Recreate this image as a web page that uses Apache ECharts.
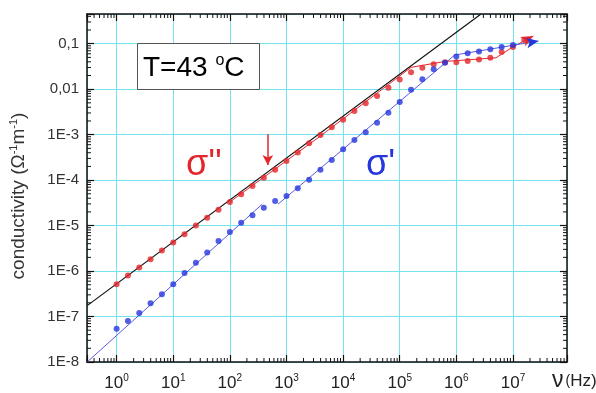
<!DOCTYPE html>
<html>
<head>
<meta charset="utf-8">
<script src="https://cdn.jsdelivr.net/npm/echarts@6/dist/echarts.min.js"></script>
<style>
  html, body { margin: 0; background: #fff; }
  #chart { width: 596px; height: 393px; }
</style>
</head>
<body>
<div id="chart"></div>
<script>
  // values, as log10 of frequency (Hz) and log10 of conductivity
  const logFreq = [0, 0.2, 0.4, 0.6, 0.8, 1.0, 1.2, 1.4, 1.6, 1.8, 2.0, 2.2, 2.4, 2.6, 2.8, 3.0, 3.2, 3.4,
    3.6, 3.8, 4.0, 4.2, 4.4, 4.6, 4.8, 5.0, 5.2, 5.4, 5.6, 5.8, 6.0, 6.2, 6.4, 6.6, 6.8, 7.0, 7.2];

  // sigma'' (red dots)
  const logSigmaImag = [-6.29, -6.10, -5.92, -5.74, -5.55, -5.37, -5.19, -5.00, -4.83, -4.65, -4.48, -4.31,
    -4.13, -3.95, -3.77, -3.58, -3.39, -3.19, -3.01, -2.84, -2.67, -2.48, -2.31, -2.15, -1.97, -1.79, -1.63,
    -1.53, -1.45, -1.41, -1.41, -1.38, -1.35, -1.31, -1.18, -1.07, -0.92];

  // sigma' (blue dots), last one at 10^7
  const logSigmaReal = [-7.27, -7.10, -6.92, -6.71, -6.51, -6.29, -6.04, -5.82, -5.59, -5.34, -5.14, -4.94,
    -4.77, -4.61, -4.46, -4.35, -4.18, -3.99, -3.77, -3.56, -3.32, -3.12, -2.95, -2.74, -2.52, -2.28, -2.01,
    -1.78, -1.56, -1.42, -1.28, -1.21, -1.17, -1.12, -1.07, -1.03];

  // fitted curves [log10 f, log10 sigma]
  const fitImag = [[2.0, -4.48], [3.6, -3.03], [5.2, -1.52], [5.8, -1.39], [6.7, -1.31], [7.0, -1.07], [7.36, -0.83]];
  const fitRealLow = [[-0.52, -8.0], [2.57, -4.53]];
  const fitRealHigh = [[2.85, -4.53], [5.97, -1.25], [7.45, -0.94]];
  const powerLaw = [[-0.52, -6.76], [6.43, -0.35]];
  const downArrow = [[2.67, -2.99], [2.67, -3.67]];

  const X_MIN = 0.3, X_MAX = 9e7, Y_MIN = 1e-8, Y_MAX = 0.45;
  const minorSteps = [2, 3, 4, 5, 6, 7, 8, 9];

  const p10 = v => Math.pow(10, v);
  const toXY = pts => pts.map(p => [p10(p[0]), p10(p[1])]);

  const FONT = 'Liberation Sans';
  const INK = '#111';
  const GRID_CYAN = '#74e4ec';
  const RED = '#e3262b';
  const BLUE = '#2536dc';

  function decadeOf(v) {
    const l = Math.log10(v);
    const e = Math.round(l);
    return Math.abs(l - e) < 1e-6 ? e : null;
  }

  function yLabel(v) {
    const e = decadeOf(v);
    if (e === null) return '';
    if (e === -1) return '0,1';
    if (e === -2) return '0,01';
    return '1E' + e;
  }

  function xLabel(v) {
    const e = decadeOf(v);
    if (e === null) return '';
    return '{b|10}{s|' + e + '}';
  }

  // minor log ticks (2..9 in every decade) for all four frame sides
  const minorTicks = [];
  for (let d = -9; d <= 8; d++) {
    minorSteps.forEach(m => {
      const v = m * p10(d);
      if (v > X_MIN && v < X_MAX) minorTicks.push([v, Y_MIN, 0]);
      if (v > Y_MIN && v < Y_MAX) minorTicks.push([X_MIN, v, 1]);
    });
  }

  function makeX(pos, main) {
    return {
      type: 'log', logBase: 10, min: X_MIN, max: X_MAX, position: pos,
      axisLine: { show: true, onZero: false, lineStyle: { color: INK, width: 1.5 } },
      axisTick: { show: true, inside: true, length: 7, lineStyle: { color: INK, width: 1.2 } },
      splitLine: { show: main, lineStyle: { color: GRID_CYAN, width: 1 } },
      axisLabel: {
        show: main, margin: 11, formatter: xLabel,
        rich: {
          b: { fontFamily: FONT, fontSize: 17, color: '#222', lineHeight: 20 },
          s: { fontFamily: FONT, fontSize: 10, color: '#222', verticalAlign: 'top', lineHeight: 12 }
        }
      },
      name: main ? '{n|\u03bd}{p|(}{h|Hz)}' : '',
      nameLocation: 'end', nameGap: -15,
      nameTextStyle: {
        verticalAlign: 'top', padding: [7, 0, 0, 0],
        rich: {
          n: { fontFamily: FONT, fontSize: 23, color: '#222', lineHeight: 24, padding: [0, 2, 0, 0] },
          p: { fontFamily: FONT, fontSize: 14, color: '#222', lineHeight: 24 },
          h: { fontFamily: FONT, fontSize: 17, color: '#222', lineHeight: 24 }
        }
      }
    };
  }

  function makeY(pos, main) {
    return {
      type: 'log', logBase: 10, min: Y_MIN, max: Y_MAX, position: pos,
      axisLine: { show: true, onZero: false, lineStyle: { color: INK, width: 1.5 } },
      axisTick: { show: true, inside: true, length: 7, lineStyle: { color: INK, width: 1.2 } },
      splitLine: { show: main, lineStyle: { color: GRID_CYAN, width: 1 } },
      axisLabel: { show: main, margin: 8, formatter: yLabel, fontFamily: FONT, fontSize: 15, color: '#333' },
      name: main ? '{t|conductivity (\u03a9}{s|-1}{t|m}{s|-1}{t|)}' : '',
      nameLocation: 'middle', nameGap: 57,
      nameTextStyle: {
        padding: [0, 16, 0, 0],
        rich: {
          t: { fontFamily: FONT, fontSize: 19, color: '#333', lineHeight: 22 },
          s: { fontFamily: FONT, fontSize: 11, color: '#333', verticalAlign: 'top', lineHeight: 12 }
        }
      }
    };
  }

  const chart = echarts.init(document.getElementById('chart'), null, { renderer: 'canvas' });

  chart.setOption({
    animation: false,
    backgroundColor: '#fff',
    grid: { left: 87, top: 14, right: 29, bottom: 31, outerBoundsMode: 'none', containLabel: false },
    xAxis: [makeX('bottom', true), makeX('top', false)],
    yAxis: [makeY('left', true), makeY('right', false)],
    graphic: [
      {
        type: 'rect', left: 137, top: 43, z: 10,
        shape: { width: 122, height: 46 },
        style: { fill: '#fff', stroke: '#555', lineWidth: 1 }
      },
      {
        type: 'text', x: 143, y: 68, z: 11,
        style: {
          text: '{m|T=43 }{s|o}{m|C}', verticalAlign: 'middle',
          rich: {
            m: { fontFamily: FONT, fontSize: 28, color: '#111', lineHeight: 30 },
            s: { fontFamily: FONT, fontSize: 16, color: '#111', verticalAlign: 'top', lineHeight: 14 }
          }
        }
      },
      {
        type: 'text', x: 186, y: 165, z: 11,
        style: { text: "\u03c3''", fontFamily: FONT, fontSize: 36, fill: RED, verticalAlign: 'middle' }
      },
      {
        type: 'text', x: 366, y: 165, z: 11,
        style: { text: "\u03c3'", fontFamily: FONT, fontSize: 36, fill: BLUE, verticalAlign: 'middle' }
      }
    ],
    series: [
      {
        name: 'power law', type: 'line', data: toXY(powerLaw),
        symbol: 'none', lineStyle: { color: INK, width: 1.2 }, z: 3
      },
      {
        name: "fit sigma'' ", type: 'line', showSymbol: true, symbol: 'none',
        data: toXY(fitImag).map((p, i, a) => i === a.length - 1
          ? { value: p, symbol: 'arrow', symbolSize: [8, 12], symbolRotate: -62 } : { value: p }),
        lineStyle: { color: RED, width: 1 }, itemStyle: { color: RED }, z: 3
      },
      {
        name: "fit sigma' low", type: 'line', data: toXY(fitRealLow),
        symbol: 'none', lineStyle: { color: '#5a5ae0', width: 1 }, z: 3
      },
      {
        name: "fit sigma' high", type: 'line', showSymbol: true, symbol: 'none',
        data: toXY(fitRealHigh).map((p, i, a) => i === a.length - 1
          ? { value: p, symbol: 'arrow', symbolSize: [8, 12], symbolRotate: -80 } : { value: p }),
        lineStyle: { color: '#5a5ae0', width: 1 }, itemStyle: { color: BLUE }, z: 3
      },
      {
        name: "sigma''", type: 'scatter', symbolSize: 6, itemStyle: { color: RED },
        data: logFreq.map((f, i) => [p10(f), p10(logSigmaImag[i])]), z: 4,
        markLine: {
          silent: true, symbol: ['none', 'arrow'], symbolSize: [8, 10],
          label: { show: false },
          lineStyle: { color: RED, width: 1.5, type: 'solid' },
          data: [[{ coord: toXY(downArrow)[0] }, { coord: toXY(downArrow)[1] }]]
        }
      },
      {
        name: "sigma'", type: 'scatter', symbolSize: 6, itemStyle: { color: BLUE },
        data: logSigmaReal.map((s, i) => [p10(logFreq[i]), p10(s)]), z: 4
      },
      {
        name: 'minor ticks', type: 'custom', silent: true, clip: false, z: 6,
        data: minorTicks,
        renderItem: function (params, api) {
          const v = api.value(api.value(2) === 0 ? 0 : 1);
          let a, b, c, d;
          if (api.value(2) === 0) {
            a = api.coord([v, Y_MIN]); b = api.coord([v, Y_MAX]);
            return {
              type: 'group', children: [
                { type: 'line', shape: { x1: a[0], y1: a[1], x2: a[0], y2: a[1] - 4 }, style: { stroke: INK, lineWidth: 1 } },
                { type: 'line', shape: { x1: b[0], y1: b[1], x2: b[0], y2: b[1] + 4 }, style: { stroke: INK, lineWidth: 1 } }
              ]
            };
          }
          c = api.coord([X_MIN, v]); d = api.coord([X_MAX, v]);
          return {
            type: 'group', children: [
              { type: 'line', shape: { x1: c[0], y1: c[1], x2: c[0] + 4, y2: c[1] }, style: { stroke: INK, lineWidth: 1 } },
              { type: 'line', shape: { x1: d[0], y1: d[1], x2: d[0] - 4, y2: d[1] }, style: { stroke: INK, lineWidth: 1 } }
            ]
          };
        }
      }
    ]
  });
</script>
</body>
</html>
